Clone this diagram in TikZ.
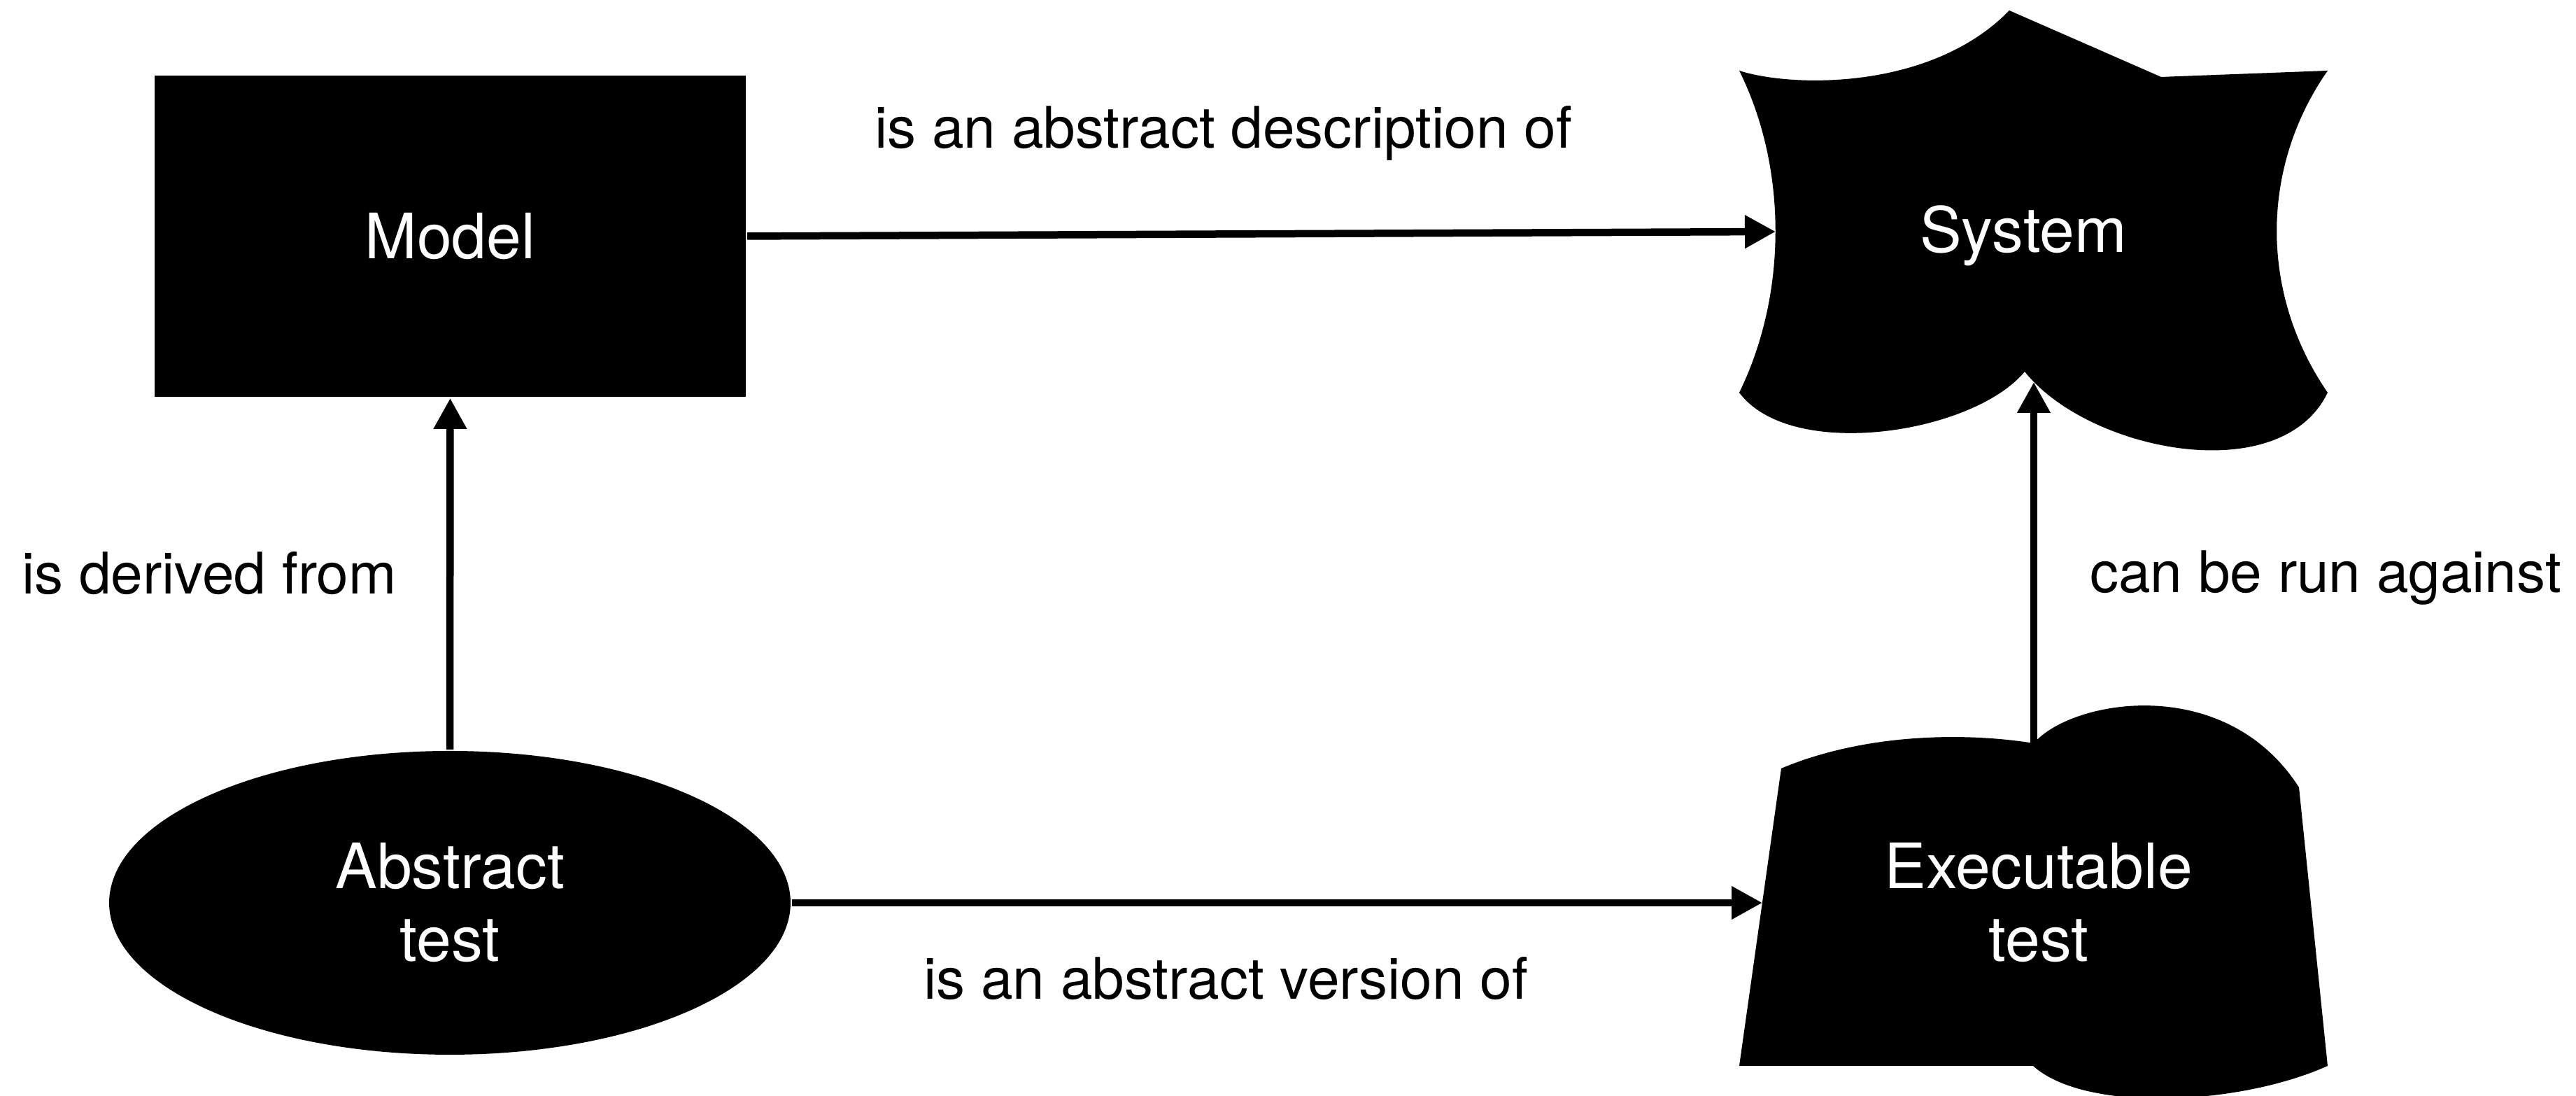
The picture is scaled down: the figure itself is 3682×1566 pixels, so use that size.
\documentclass[tikz,border=0pt]{standalone}
\usepackage{fontspec}
\setmainfont{TeX Gyre Heros}
\usetikzlibrary{arrows.meta,shapes.geometric}

\begin{document}
\begin{tikzpicture}[x=0.1pt,y=-0.1pt,
  nodetext/.style={font=\fontsize{8.95}{10.4}\selectfont, text=white, align=center, inner sep=0pt},
  edgelabel/.style={font=\fontsize{8.2}{9.8}\selectfont, anchor=base, inner sep=0pt},
  conn/.style={line width=1.05pt, -{Triangle[length=4.4pt,width=4.5pt]}}]

% canvas
\fill[white] (0,0) rectangle (3682,1566);
\useasboundingbox (0,0) rectangle (3682,1566);

% Model: plain rectangle
\node[rectangle, fill=black, minimum width=84.5pt, minimum height=45.9pt,
      nodetext] (model) at (643.5,337.5) {Model};

% Abstract test: ellipse
\node[ellipse, fill=black, minimum width=97.4pt, minimum height=43.4pt,
      nodetext] (abstract) at (643,1290) {Abstract\\test};

% System: irregular outline with concave sides and a notched top
\fill[black] (2486,101) .. controls (2560,125) and (2760,130) .. (2872,15)
  -- (3089,110) -- (3327,101)
  .. controls (3230,240) and (3230,420) .. (3327,561)
  .. controls (3260,700) and (2985,645) .. (2894,531)
  .. controls (2820,620) and (2560,660) .. (2486,561)
  .. controls (2555,420) and (2555,240) .. (2486,101) -- cycle;
\node[nodetext, anchor=base] (system) at (2892,361) {System};
\coordinate (sysW) at (2538,331);
\coordinate (sysS) at (2907,546);

% Executable test: slanted sides, bulging top and bottom
\fill[black] (2546,1098) .. controls (2660,1050) and (2800,1045) .. (2907,1062)
  .. controls (2960,1000) and (3180,960) .. (3286,1125)
  -- (3327,1523)
  .. controls (3200,1580) and (2980,1590) .. (2906,1523)
  -- (2486,1523) -- cycle;
\node[nodetext] (executable) at (2914,1290) {Executable\\test};
\coordinate (exeN) at (2907,1062);
\coordinate (exeW) at (2519,1290);

% connectors
\draw[conn] (model.east) -- (sysW);
\draw[conn] (abstract.north) -- (model.south);
\draw[conn] (abstract.east) -- (exeW);
\draw[conn] (exeN) -- (sysS);

% connector labels
\node[edgelabel] (lblDesc) at (1748.5,212) {is an abstract description of};
\node[edgelabel] (lblDerived) at (299,849) {is derived from};
\node[edgelabel] (lblRun) at (3324,847) {can be run against};
\node[edgelabel] (lblVersion) at (1752,1428) {is an abstract version of};
\end{tikzpicture}
\end{document}
